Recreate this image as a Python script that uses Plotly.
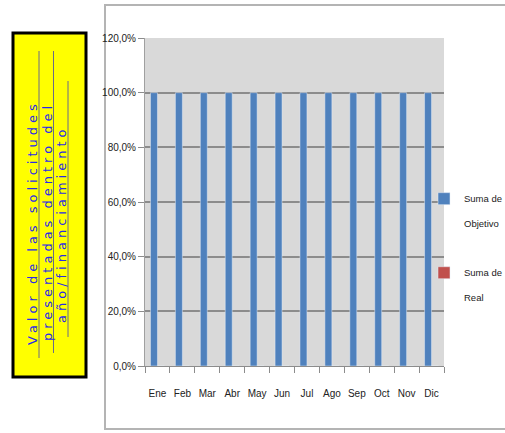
import plotly.graph_objects as go

months = ["Ene", "Feb", "Mar", "Abr", "May", "Jun", "Jul", "Ago", "Sep", "Oct", "Nov", "Dic"]
objetivo = [1.0] * 12
real = [0.0] * 12
series_names = ["Suma de<br><br>Objetivo", "Suma de<br><br>Real"]
title_lines = ["Valor de las solicitudes", "presentadas dentro del", "año/financiamiento"]

W, H = 505, 433
L, R, T, B = 145, 444, 38, 366


def px(x):
    return (x - L) / (R - L)


def py(y):
    return (B - y) / (B - T)


fig = go.Figure()
fig.add_trace(go.Bar(x=months, y=objetivo, name=series_names[0], marker_color="#4f81bd",
                     legendgroup="a"))
fig.add_trace(go.Bar(x=months, y=real, name=series_names[1], marker_color="#c0504d",
                     legendgroup="b"))

narrow = "Liberation Sans Narrow, Liberation Sans, Arial, sans-serif"

shapes = [
    # chart frame
    dict(type="rect", xref="paper", yref="paper", x0=px(105), x1=px(507), y0=py(429), y1=py(5),
         line=dict(color="#b4b4b4", width=2), fillcolor="rgba(0,0,0,0)", layer="below"),
    # yellow box
    dict(type="rect", xref="paper", yref="paper", x0=px(13), x1=px(86), y0=py(377), y1=py(33),
         line=dict(color="#000000", width=3), fillcolor="#ffff00", layer="below"),
]
# underlines
for xu, y0u, y1u in [(39, 51, 358), (53.5, 51, 353), (68, 81, 337)]:
    shapes.append(dict(type="line", xref="paper", yref="paper", x0=px(xu), x1=px(xu),
                       y0=py(y1u), y1=py(y0u), line=dict(color="#6a6a8a", width=1)))

annotations = []
for txt, xc, yc in zip(title_lines, [32, 47, 62], [222, 222, 225]):
    annotations.append(dict(
        text='<span style="letter-spacing:4px">' + txt + '</span>',
        xref="paper", yref="paper", x=px(xc), y=py(yc), xanchor="center", yanchor="middle",
        textangle=-90, showarrow=False,
        font=dict(family="DejaVu Sans, Arial, sans-serif", size=13, color="#2a2ae8")))

fig.update_layout(
    width=W, height=H,
    margin=dict(l=L, r=W - R, t=T, b=H - B, pad=0, autoexpand=False),
    paper_bgcolor="white",
    plot_bgcolor="#d9d9d9",
    barmode="group",
    bargap=0.44,
    bargroupgap=0,
    separators=",.",
    font=dict(family=narrow, size=10, color="#222222"),
    xaxis=dict(type="category", tickson="boundaries", ticks="outside", ticklen=6,
               tickcolor="#8c8c8c", showline=True, linecolor="#8c8c8c", linewidth=1,
               showgrid=False, ticklabelstandoff=18, tickangle=0, tickfont=dict(size=10)),
    yaxis=dict(range=[0, 1.2], dtick=0.2, tickformat=".1%", ticks="outside", ticklen=6,
               tickcolor="#8c8c8c", showline=True, linecolor="#a0a0a0", linewidth=1,
               gridcolor="#8c8c8c", gridwidth=1.5, zeroline=False, tickfont=dict(size=10)),
    legend=dict(x=px(424), y=py(186), xanchor="left", yanchor="top", valign="top",
                bgcolor="rgba(0,0,0,0)", tracegroupgap=34, itemwidth=30,
                font=dict(family=narrow, size=9.5, color="#222222")),
    shapes=shapes,
    annotations=annotations,
)

fig.write_html("out.html")
